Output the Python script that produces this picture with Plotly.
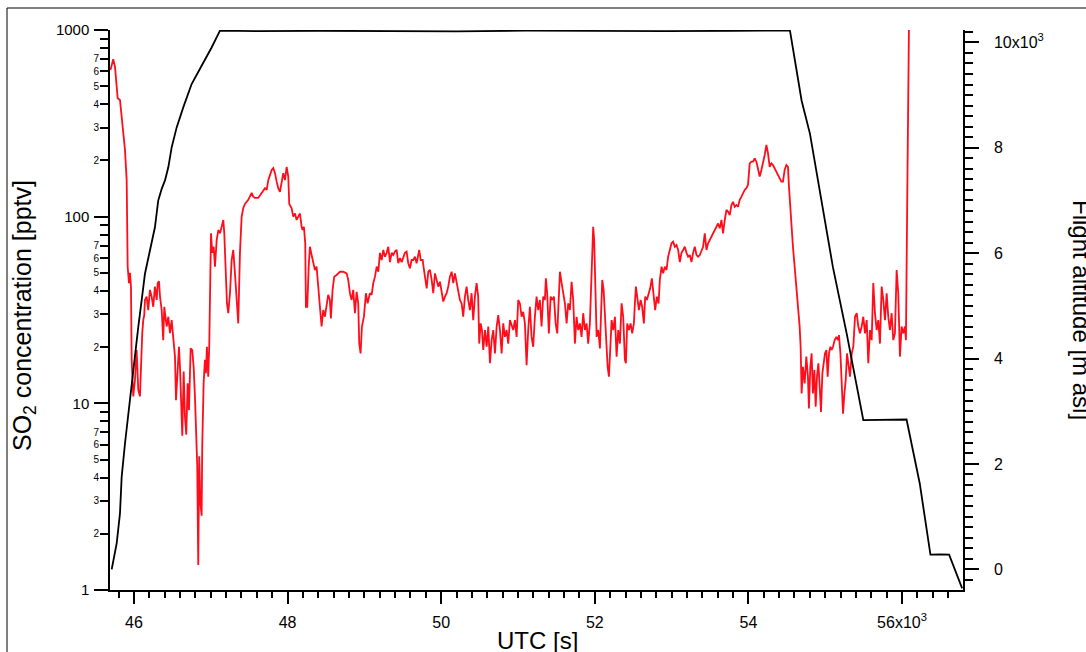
import plotly.graph_objects as go

# SO2 time series (UTC seconds, pptv)
utc_so2 = [
    45694, 45707, 45730, 45753, 45772, 45788, 45818, 45840, 45863, 45883,
    45905, 45911, 45918, 45935, 45948, 45961, 45970, 45991, 46013, 46035,
    46056, 46078, 46091, 46108, 46121, 46134, 46143, 46165, 46186, 46208,
    46230, 46251, 46273, 46296, 46309, 46326, 46339, 46361, 46381, 46395,
    46404, 46426, 46447, 46469, 46491, 46512, 46534, 46547, 46569, 46586,
    46599, 46612, 46629, 46647, 46664, 46681, 46699, 46716, 46738, 46759,
    46777, 46794, 46807, 46824, 46837, 46850, 46863, 46881, 46889, 46907,
    46924, 46937, 46950, 46967, 46980, 46993, 47003, 47019, 47038, 47055,
    47077, 47098, 47120, 47142, 47163, 47176, 47194, 47211, 47228, 47250,
    47272, 47293, 47315, 47337, 47358, 47380, 47402, 47423, 47445, 47488,
    47532, 47553, 47575, 47618, 47663, 47706, 47728, 47749, 47771, 47793,
    47814, 47836, 47858, 47879, 47901, 47923, 47944, 47966, 47988, 48009,
    48022, 48053, 48074, 48096, 48118, 48139, 48161, 48183, 48196, 48213,
    48230, 48239, 48256, 48275, 48291, 48313, 48334, 48356, 48378, 48399,
    48421, 48443, 48464, 48486, 48508, 48529, 48551, 48564, 48586, 48607,
    48639, 48682, 48725, 48769, 48790, 48812, 48834, 48855, 48877, 48899,
    48920, 48933, 48951, 48968, 48994, 49020, 49042, 49072, 49094, 49116,
    49138, 49160, 49181, 49203, 49225, 49246, 49268, 49290, 49311, 49333,
    49355, 49376, 49398, 49420, 49441, 49463, 49485, 49506, 49528, 49550,
    49571, 49593, 49615, 49636, 49658, 49680, 49701, 49714, 49733, 49759,
    49776, 49793, 49811, 49832, 49854, 49876, 49897, 49919, 49941, 49962,
    49984, 50006, 50027, 50049, 50071, 50092, 50114, 50136, 50157, 50179,
    50201, 50222, 50244, 50266, 50287, 50309, 50331, 50352, 50374, 50396,
    50417, 50439, 50461, 50482, 50495, 50514, 50531, 50548, 50570, 50592,
    50613, 50635, 50657, 50678, 50700, 50722, 50743, 50765, 50787, 50808,
    50830, 50852, 50873, 50895, 50917, 50938, 50960, 50982, 51003, 51025,
    51047, 51068, 51090, 51112, 51133, 51155, 51177, 51198, 51220, 51242,
    51263, 51285, 51307, 51328, 51350, 51363, 51380, 51402, 51425, 51446,
    51468, 51490, 51511, 51533, 51546, 51568, 51589, 51611, 51633, 51654,
    51676, 51698, 51719, 51741, 51763, 51784, 51806, 51828, 51849, 51871,
    51893, 51914, 51936, 51949, 51966, 51979, 51992, 52005, 52024, 52045,
    52067, 52080, 52097, 52115, 52132, 52154, 52167, 52184, 52197, 52219,
    52240, 52262, 52284, 52305, 52327, 52349, 52370, 52392, 52405, 52422,
    52444, 52466, 52487, 52509, 52522, 52535, 52552, 52574, 52597, 52617,
    52639, 52656, 52678, 52700, 52721, 52743, 52765, 52786, 52808, 52830,
    52847, 52869, 52890, 52912, 52934, 52955, 52977, 52999, 53020, 53042,
    53064, 53085, 53107, 53129, 53150, 53172, 53194, 53215, 53237, 53259,
    53280, 53302, 53324, 53345, 53367, 53389, 53410, 53432, 53454, 53475,
    53497, 53519, 53540, 53562, 53584, 53605, 53627, 53649, 53670, 53692,
    53714, 53735, 53757, 53779, 53800, 53822, 53844, 53865, 53887, 53909,
    53930, 53952, 53974, 53995, 54017, 54039, 54060, 54082, 54104, 54125,
    54147, 54169, 54190, 54212, 54234, 54255, 54277, 54299, 54320, 54342,
    54364, 54385, 54407, 54429, 54450, 54472, 54494, 54515, 54528, 54546,
    54563, 54580, 54602, 54624, 54645, 54667, 54680, 54693, 54710, 54732,
    54754, 54775, 54788, 54806, 54823, 54840, 54859, 54876, 54893, 54911,
    54928, 54945, 54963, 54980, 54997, 55015, 55032, 55049, 55067, 55084,
    55101, 55123, 55145, 55166, 55179, 55198, 55215, 55232, 55250, 55267,
    55284, 55302, 55323, 55345, 55366, 55388, 55410, 55431, 55453, 55475,
    55496, 55518, 55540, 55561, 55583, 55605, 55626, 55648, 55670, 55691,
    55713, 55735, 55756, 55778, 55800, 55821, 55843, 55865, 55886, 55908,
    55930, 55951, 55973, 55995, 56016, 56038, 56051, 56068, 56087, 56094,
]
so2_pptv = [
    611, 641, 697, 636, 508, 431, 422, 350, 284, 228,
    157, 85, 54, 44, 50, 42, 17.1, 10.9, 13.3, 19.3,
    11.8, 10.9, 17.8, 23.8, 27.9, 29.7, 35.8, 37.3, 31.6, 40.5,
    37.3, 32.9, 42.2, 35.8, 44.1, 45.0, 37.3, 31.6, 21.8, 32.9,
    30.4, 25.8, 29.1, 23.8, 27.9, 21.0, 17.8, 10.4, 15.7, 20.1,
    15.7, 9.6, 6.7, 14.8, 8.5, 6.8, 12.8, 9.2, 19.7, 19.3,
    15.7, 10.9, 6.4, 4.6, 1.36, 5.2, 3.0, 2.5, 5.9, 12.8,
    17.1, 14.5, 20.1, 13.9, 20.1, 35.8, 81.4, 64, 69, 54,
    75, 84.8, 81.4, 88.3, 96, 81.4, 49.7, 34.3, 30.4, 38.9,
    58.6, 66.3, 49.7, 37.3, 26.8, 64, 100, 111, 117, 123,
    134, 128, 126, 126, 134, 142, 139, 157, 167, 178,
    182, 171, 154, 142, 136, 151, 171, 157, 185, 164,
    117, 111, 100, 104, 96, 100, 104, 88.3, 84.8, 88.3,
    72, 32.9, 32.9, 54, 69, 62.3, 57.1, 51.8, 54, 40.5,
    32.9, 25.8, 31.6, 29.1, 32.9, 38.1, 35.8, 28.5, 40.5, 47.7,
    48.7, 50.7, 50.7, 49.7, 45.8, 38.9, 35.8, 40.5, 30.4, 39.6,
    34.3, 20.9, 18.5, 25.8, 29.1, 38.9, 34.3, 38.9, 38.1, 44.1,
    47.7, 54, 50.7, 64, 58.6, 66.3, 61, 64, 69, 57.1,
    64, 62.3, 65, 66.3, 56.3, 60, 57.1, 60, 64, 65,
    56.3, 52.9, 58.6, 58.6, 61, 56.3, 62.3, 66.3, 58.6, 58.6,
    51.8, 45.8, 41.3, 50.7, 51.8, 45.8, 38.9, 49.7, 45.8, 42.2,
    44.8, 38.9, 35.1, 37.3, 38.9, 42.2, 47.7, 50.7, 44.1, 49.7,
    44.8, 38.9, 35.8, 34.3, 29.1, 37.3, 42.2, 35.8, 31.6, 38.9,
    27.9, 37.3, 44.1, 37.3, 20.9, 26.8, 24.7, 19.3, 24.7, 20.1,
    25.8, 16.4, 21.8, 24.7, 18.5, 25.8, 29.7, 24.7, 18.5, 26.8,
    22.7, 24.7, 20.9, 27.9, 25.8, 24.7, 27.9, 22.7, 35.8, 34.3,
    29.1, 30.9, 26.8, 16.0, 24.7, 32.9, 22.7, 20.1, 29.1, 37.3,
    31.6, 35.8, 25.8, 37.3, 35.8, 46.7, 38.9, 23.7, 37.3, 35.8,
    37.3, 26.8, 23.7, 42.2, 50.7, 44.1, 38.9, 34.3, 26.8, 34.3,
    31.6, 44.8, 35.8, 20.9, 29.1, 24.7, 26.8, 22.7, 30.4, 24.7,
    26.8, 20.9, 26.8, 40.5, 61, 88.3, 75, 40.5, 22.7, 24.7,
    19.7, 29.1, 45.8, 40.5, 30.4, 20.9, 15.7, 13.9, 19.3, 27.9,
    24.7, 29.1, 17.8, 24.7, 20.9, 34.3, 29.1, 17.1, 16.4, 26.8,
    24.7, 26.8, 23.7, 26.8, 34.3, 42.2, 37.3, 31.6, 35.8, 32.9,
    26.8, 37.3, 35.8, 38.9, 41.3, 46.7, 38.9, 31.6, 37.3, 34.3,
    45.8, 54, 49.7, 54, 51.8, 61, 66.3, 72, 73.5, 69,
    70.5, 66.3, 57.1, 64, 66.3, 69, 64, 61, 62.3, 57.1,
    64, 69, 62.3, 61, 62.3, 66.3, 69, 81.4, 66.3, 72,
    75, 78, 79.8, 84.8, 88.3, 92, 86.6, 96, 81.4, 96,
    108.6, 106.5, 102, 115.5, 120, 113, 115.5, 113, 123, 128,
    134, 139, 142, 148, 193, 197, 197, 205, 197, 178,
    164, 178, 193, 214, 242, 219, 185, 193, 189, 182,
    175, 167, 161, 154, 154, 178, 189, 185, 145, 108.6,
    88.3, 69, 54, 42.2, 34.3, 25.8, 20.1, 11.3, 15.7, 12.8,
    17.8, 13.9, 9.4, 15.7, 18.5, 11.3, 15.1, 9.6, 13.9, 16.4,
    12.3, 9.0, 14.5, 16.4, 18.5, 19.3, 13.9, 18.5, 20.1, 19.3,
    20.1, 21.8, 22.7, 21.8, 23.2, 18.5, 11.8, 8.8, 11.3, 13.3,
    18.5, 15.7, 13.9, 18.5, 20.1, 29.1, 30.4, 25.8, 23.7, 25.8,
    29.1, 23.7, 27.9, 16.4, 24.7, 21.8, 44.1, 30.4, 24.7, 27.9,
    20.9, 42.2, 35.8, 27.9, 38.9, 29.1, 24.7, 30.4, 21.8, 23.7,
    51.8, 38.9, 17.8, 25.8, 23.7, 25.8, 21.8, 123, 422, 1500,
]

# Flight altitude (UTC seconds, m asl)
utc_alt = [
    45710, 45775, 45818, 45840, 45883, 45926, 45970, 46013, 46056, 46100,
    46143, 46208, 46273, 46316, 46361, 46404, 46447, 46491, 46556, 46642,
    46751, 46881, 47011, 47120, 47600, 48400, 49300, 50200, 51100, 52000,
    52900, 53800, 54541, 54693, 54801, 55101, 55279, 55496, 55800, 56059,
    56231, 56370, 56500, 56613, 56783,
]
altitude_m = [
    0, 493, 1061, 1755, 2388, 2956, 3460, 4029, 4597, 5103,
    5609, 6051, 6492, 6998, 7220, 7381, 7629, 8008, 8387, 8766,
    9210, 9557, 9903, 10223, 10212, 10220, 10215, 10210, 10222, 10216,
    10212, 10220, 10223, 8892, 8268, 5729, 4478, 2830, 2835, 2843,
    1630, 280, 285, 280, -360,
]

# Axis ticks and labels
so2_major = [1, 10, 100, 1000]
so2_major_text = ["1", "10", "100", "1000"]
so2_minor_labelled = [m * d for d in (1, 10, 100) for m in range(2, 8)]
so2_minor_text = [str(m) for d in (1, 10, 100) for m in range(2, 8)]
so2_minor_plain = [m * d for d in (1, 10, 100) for m in (8, 9)]
utc_ticks = list(range(46000, 57000, 2000))
utc_text = ["46", "48", "50", "52", "54", "56x10<sup>3</sup>"]
alt_ticks = [0, 2000, 4000, 6000, 8000, 10000]
alt_text = ["0", "2", "4", "6", "8", "10x10<sup>3</sup>"]

RED = "#ff0d1a"
FONT = "Liberation Sans, Arial, Helvetica, sans-serif"

W, H = 1086, 652
ML, MR, MT, MB = 110, 123, 30, 62
PW, PH = W - ML - MR, H - MT - MB


def px_x(px):
    return (px - ML) / PW


def px_y(py):
    return (H - MB - py) / PH


fig = go.Figure()
fig.add_trace(go.Scatter(x=utc_so2, y=so2_pptv, mode="lines",
                         line=dict(color=RED, width=1.8), yaxis="y",
                         hoverinfo="skip"))
fig.add_trace(go.Scatter(x=utc_alt, y=altitude_m, mode="lines",
                         line=dict(color="black", width=1.8), yaxis="y2",
                         hoverinfo="skip"))
fig.add_trace(go.Scatter(x=[], y=[], yaxis="y3", hoverinfo="skip"))

tick_common = dict(showgrid=False, zeroline=False, ticks="outside",
                   tickcolor="black", tickwidth=1.5)

fig.update_layout(
    width=W, height=H,
    margin=dict(l=ML, r=MR, t=MT, b=MB, pad=0),
    paper_bgcolor="white", plot_bgcolor="white",
    showlegend=False,
    font=dict(family=FONT, color="black"),
    xaxis=dict(
        range=[45688, 56794], showline=True, linecolor="black", linewidth=1.5,
        tickmode="array", tickvals=utc_ticks, ticktext=utc_text, ticklen=12,
        tickfont=dict(size=16, family=FONT), ticklabelstandoff=5,
        minor=dict(dtick=200, tick0=0, ticks="outside", ticklen=6,
                   tickwidth=1.5, tickcolor="black", showgrid=False),
        **tick_common,
    ),
    yaxis=dict(
        type="log", range=[0, 3], showline=True, linecolor="black", linewidth=1.5,
        tickmode="array", tickvals=so2_major, ticktext=so2_major_text, ticklen=14,
        tickfont=dict(size=15, family=FONT), ticklabelstandoff=2,
        **tick_common,
    ),
    yaxis3=dict(
        type="log", range=[0, 3], overlaying="y", side="left", anchor="x",
        showline=False, tickmode="array", tickvals=so2_minor_labelled,
        ticktext=so2_minor_text, ticklen=9, tickfont=dict(size=10, family=FONT),
        ticklabelstandoff=-1,
        minor=dict(tickmode="array", tickvals=so2_minor_plain, ticks="outside",
                   ticklen=9, tickwidth=1.5, tickcolor="black", showgrid=False),
        **tick_common,
    ),
    yaxis2=dict(
        range=[-392, 10235], overlaying="y", side="right", anchor="x",
        showline=True, linecolor="black", linewidth=1.5,
        tickmode="array", tickvals=alt_ticks, ticktext=alt_text, ticklen=14,
        tickfont=dict(size=16, family=FONT), ticklabelstandoff=12,
        minor=dict(dtick=200, tick0=0, ticks="outside", ticklen=8,
                   tickwidth=1.5, tickcolor="black", showgrid=False),
        **tick_common,
    ),
    annotations=[
        dict(text="SO<sub>2</sub> concentration [pptv]", textangle=-90,
             xref="paper", yref="paper", x=px_x(24), y=px_y(316),
             xanchor="center", yanchor="middle", showarrow=False,
             font=dict(size=25, family=FONT)),
        dict(text="UTC [s]", xref="paper", yref="paper",
             x=px_x(537), y=px_y(640), xanchor="center", yanchor="middle",
             showarrow=False, font=dict(size=24, family=FONT)),
        dict(text="Flight altitude [m asl]", textangle=90,
             xref="paper", yref="paper", x=px_x(1082), y=px_y(310),
             xanchor="center", yanchor="middle", showarrow=False,
             font=dict(size=24, family=FONT)),
    ],
    shapes=[
        dict(type="rect", xref="paper", yref="paper",
             x0=px_x(7), x1=px_x(1100), y0=px_y(670), y1=px_y(8),
             line=dict(color="black", width=1), fillcolor="rgba(0,0,0,0)",
             layer="above"),
    ],
)

fig.write_html("out.html")
